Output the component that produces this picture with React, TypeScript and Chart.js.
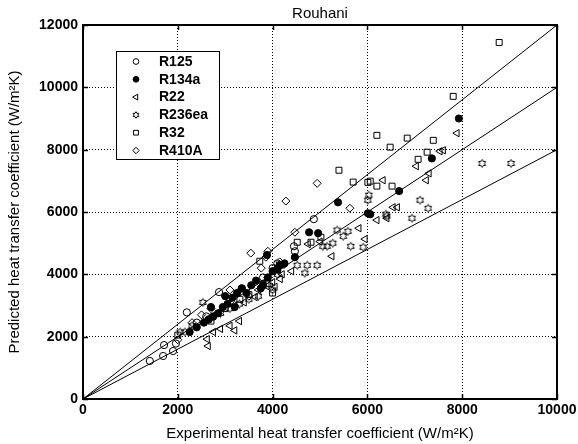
import React, { useEffect, useRef } from "react";
import { Chart, registerables } from "chart.js";

Chart.register(...registerables);

type P = [number, number];

const seriesNames = ["R125", "R134a", "R22", "R236ea", "R32", "R410A"];

const r125: P[] = [
  [1410, 1220], [1690, 1380], [1900, 1540], [1710, 1730], [1960, 1780], [2190, 2780],
  [2870, 3430], [2400, 2450], [2600, 2650], [3350, 3550], [4470, 4740], [4450, 4900],
  [4870, 5770], [3800, 3900], [4000, 4200], [4100, 4350],
];
const r134a: P[] = [
  [2250, 2150], [2400, 2300], [2550, 2450], [2650, 2550], [2750, 2650], [2850, 2750],
  [2700, 2950], [2950, 2950], [3050, 3050], [3150, 3250], [3250, 3400], [3350, 3550],
  [3450, 3400], [3550, 3650], [3650, 3800], [3750, 3550], [3880, 4620], [3900, 3900],
  [4000, 4100], [4150, 4300], [4250, 4350], [4470, 4550], [4770, 5350], [4960, 5320],
  [5380, 6310], [6010, 5960], [6060, 5930], [6670, 6670], [7360, 7720], [7930, 9000],
  [3200, 2950], [3000, 3300], [3800, 3650], [4100, 4150],
];
const r22: P[] = [
  [2640, 1700], [2620, 1920], [2750, 2150], [2900, 2250], [3100, 2350], [3300, 2500],
  [3200, 2200], [3630, 3270], [3880, 3620], [4000, 3750], [4160, 3850], [3700, 3500],
  [4400, 4100], [4750, 4970], [5250, 4580], [5820, 5480], [5950, 5130], [6200, 5740],
  [6410, 5800], [6540, 6150], [6630, 6150], [6330, 7020], [7030, 7470], [7240, 7020],
  [7300, 7240], [7530, 7950], [7600, 7980], [7890, 8530], [5000, 5050], [3400, 3100],
  [3900, 3900], [4050, 3600], [4200, 4000],
];
const r236ea: P[] = [
  [2050, 2150], [2150, 2150], [2530, 3100], [2300, 2350], [2700, 2600], [2900, 2750],
  [3100, 2900], [3300, 3050], [3500, 3200], [3700, 3300], [4100, 4000], [4520, 4290],
  [4730, 4290], [4940, 4290], [4680, 4040], [5060, 4900], [5150, 4900], [5270, 5000],
  [5360, 5420], [5590, 5380], [5490, 5220], [5650, 4900], [5910, 4870], [6030, 6540],
  [6010, 6380], [6410, 5870], [6390, 5930], [6940, 5800], [7110, 6380], [7280, 6120],
  [8420, 7560], [9030, 7560], [3800, 3700], [4000, 3500],
];
const r32: P[] = [
  [2000, 2050], [2700, 2500], [3000, 2900], [3310, 3200], [3500, 3350], [3730, 4420],
  [4000, 3400], [4100, 4200], [4520, 5030], [4810, 5030], [5020, 5190], [5400, 7340],
  [5700, 6960], [6010, 6950], [6200, 6830], [6520, 6830], [6060, 6990], [6200, 8460],
  [6480, 8080], [6840, 8370], [7390, 8300], [7260, 7920], [7070, 7690], [7810, 9710],
  [8780, 11440], [3900, 3700], [4200, 4300],
];
const r410a: P[] = [
  [2000, 1900], [2300, 2450], [2700, 2900], [3100, 3500], [3200, 3000], [3500, 3300],
  [3540, 4680], [3760, 4200], [3860, 4550], [3900, 4740], [4280, 6350], [4470, 5350],
  [4940, 6920], [5630, 6120], [2500, 2700], [4150, 4400],
];

const refSlopes = [1.2, 1.0, 0.8];
const xMax = 10000;
const yMax = 12000;
const tickStep = 2000;

const FONT = "'Liberation Sans', Arial, Helvetica, sans-serif";

function makeHexagram(r: number, lw: number): HTMLCanvasElement {
  const size = Math.ceil(r * 2 + 3);
  const c = document.createElement("canvas");
  c.width = size;
  c.height = size;
  const ctx = c.getContext("2d")!;
  const cx = size / 2;
  const cy = size / 2;
  const inner = r * 0.577;
  ctx.beginPath();
  for (let i = 0; i < 12; i++) {
    const ang = (Math.PI / 6) * i - Math.PI / 2;
    const rr = i % 2 === 0 ? r : inner;
    const px = cx + rr * Math.cos(ang);
    const py = cy + rr * Math.sin(ang);
    if (i === 0) ctx.moveTo(px, py);
    else ctx.lineTo(px, py);
  }
  ctx.closePath();
  ctx.lineWidth = lw;
  ctx.strokeStyle = "#000";
  ctx.stroke();
  return c;
}

const toXY = (arr: P[]) => arr.map(([x, y]) => ({ x, y }));

function drawMarker(ctx: CanvasRenderingContext2D, style: any, x: number, y: number, r: number, rot: number, fill: string) {
  ctx.save();
  ctx.fillStyle = fill;
  ctx.strokeStyle = "#000";
  ctx.lineWidth = 1;
  if (style instanceof HTMLCanvasElement) {
    ctx.drawImage(style, Math.round(x - style.width / 2), Math.round(y - style.height / 2));
    ctx.restore();
    return;
  }
  ctx.beginPath();
  if (style === "circle") {
    ctx.arc(x, y, r, 0, Math.PI * 2);
  } else if (style === "triangle") {
    const base = (rot * Math.PI) / 180;
    for (let k = 0; k < 3; k++) {
      const a = base - Math.PI / 2 + (k * 2 * Math.PI) / 3;
      const px = x + r * Math.cos(a);
      const py = y + r * Math.sin(a);
      if (k === 0) ctx.moveTo(px, py);
      else ctx.lineTo(px, py);
    }
    ctx.closePath();
  } else if (style === "rect") {
    const h = r * Math.SQRT1_2;
    ctx.rect(x - h, y - h, 2 * h, 2 * h);
  } else if (style === "rectRot") {
    ctx.moveTo(x, y - r);
    ctx.lineTo(x + r, y);
    ctx.lineTo(x, y + r);
    ctx.lineTo(x - r, y);
    ctx.closePath();
  }
  ctx.fill();
  ctx.stroke();
  ctx.restore();
}

export default function App() {
  const ref = useRef<HTMLCanvasElement | null>(null);

  useEffect(() => {
    if (!ref.current) return;
    const star = makeHexagram(4, 1);
    const starLegend = makeHexagram(3.3, 1);

    const seriesDefs: any[] = [
      { data: r125, style: "circle", fill: "rgba(0,0,0,0)", radius: 3.6, rot: 0 },
      { data: r134a, style: "circle", fill: "#000", radius: 3.6, rot: 0 },
      { data: r22, style: "triangle", fill: "rgba(0,0,0,0)", radius: 4.2, rot: -90 },
      { data: r236ea, style: star, fill: "rgba(0,0,0,0)", radius: 4, rot: 0 },
      { data: r32, style: "rect", fill: "rgba(0,0,0,0)", radius: 4.2, rot: 0 },
      { data: r410a, style: "rectRot", fill: "rgba(0,0,0,0)", radius: 4, rot: 0 },
    ];

    const datasets: any[] = seriesDefs.map((s, i) => ({
      showLine: false,
      borderColor: "#000",
      borderWidth: 1,
      pointBorderColor: "#000",
      pointBorderWidth: 1,
      label: seriesNames[i],
      data: toXY(s.data),
      pointStyle: s.style,
      pointRadius: s.radius,
      pointRotation: s.rot,
      pointBackgroundColor: s.fill,
      backgroundColor: s.fill,
      order: 1,
    }));

    refSlopes.forEach((k) => {
      datasets.push({
        label: "ref" + k,
        data: [
          { x: 0, y: 0 },
          { x: xMax, y: xMax * k },
        ],
        showLine: true,
        borderColor: "#000",
        borderWidth: 1,
        pointRadius: 0,
        fill: false,
        order: 2,
      });
    });

    const overlay = {
      id: "matlabOverlay",
      afterDraw(chart: any) {
        const { ctx, chartArea } = chart;
        const { left, right, top, bottom } = chartArea;
        const xs = chart.scales.x;
        const ys = chart.scales.y;
        ctx.save();
        ctx.strokeStyle = "#000";
        ctx.lineWidth = 1.5;
        const tl = 5;
        for (let v = 0; v <= xMax; v += tickStep) {
          const px = Math.round(xs.getPixelForValue(v)) + 0.5;
          ctx.beginPath();
          ctx.moveTo(px, bottom);
          ctx.lineTo(px, bottom - tl);
          ctx.moveTo(px, top);
          ctx.lineTo(px, top + tl);
          ctx.stroke();
        }
        for (let v = 0; v <= yMax; v += tickStep) {
          const py = Math.round(ys.getPixelForValue(v)) + 0.5;
          ctx.beginPath();
          ctx.moveTo(left, py);
          ctx.lineTo(left + tl, py);
          ctx.moveTo(right, py);
          ctx.lineTo(right - tl, py);
          ctx.stroke();
        }
        ctx.lineWidth = 2;
        ctx.strokeRect(left, top, right - left, bottom - top);

        ctx.fillStyle = "#000";
        ctx.font = `15px ${FONT}`;
        ctx.textAlign = "center";
        ctx.textBaseline = "middle";
        ctx.fillText("Rouhani", (left + right) / 2, 14);

        const bx = 116, by = 51, bw = 103, bh = 108;
        ctx.fillStyle = "#fff";
        ctx.fillRect(bx, by, bw, bh);
        ctx.lineWidth = 1;
        ctx.strokeStyle = "#000";
        ctx.strokeRect(bx + 0.5, by + 0.5, bw, bh);
        ctx.font = `bold 14px ${FONT}`;
        ctx.textAlign = "left";
        ctx.textBaseline = "middle";
        const rowY0 = 61.5;
        const rowH = 17.8;
        seriesDefs.forEach((s, i) => {
          const cy = rowY0 + i * rowH;
          const style = s.style === star ? starLegend : s.style;
          drawMarker(ctx, style, 136, cy, s.radius * 0.8, s.rot, s.fill);
          ctx.fillStyle = "#000";
          ctx.fillText(seriesNames[i], 159, cy + 0.5);
        });
        ctx.restore();
      },
    };

    const chart = new Chart(ref.current, {
      type: "scatter",
      data: { datasets },
      plugins: [overlay],
      options: {
        animation: false,
        responsive: false,
        events: [],
        layout: { padding: { top: 25, right: 21, left: 0, bottom: 0 } },
        plugins: {
          legend: { display: false },
          title: { display: false },
          tooltip: { enabled: false },
        },
        scales: {
          x: {
            type: "linear",
            min: 0,
            max: xMax,
            afterFit(scale: any) {
              scale.height = 45;
              scale.paddingLeft = 0;
              scale.paddingRight = 0;
            },
            ticks: {
              stepSize: tickStep,
              color: "#000",
              padding: 3,
              maxRotation: 0,
              autoSkip: false,
              font: { family: FONT, size: 14, weight: "bold" },
              callback: (v: any) => String(v),
            },
            grid: { color: "#000", lineWidth: 1, drawTicks: false },
            border: { display: false, dash: [1, 2] },
            title: {
              display: true,
              text: "Experimental heat transfer coefficient (W/m²K)",
              color: "#000",
              font: { family: FONT, size: 15 },
              padding: { top: 0, bottom: 1 },
            },
          },
          y: {
            type: "linear",
            min: 0,
            max: yMax,
            afterFit(scale: any) {
              scale.width = 83;
              scale.paddingTop = 0;
              scale.paddingBottom = 0;
            },
            ticks: {
              stepSize: tickStep,
              color: "#000",
              padding: 5,
              autoSkip: false,
              font: { family: FONT, size: 14, weight: "bold" },
              callback: (v: any) => String(v),
            },
            grid: { color: "#000", lineWidth: 1, drawTicks: false },
            border: { display: false, dash: [1, 2] },
            title: {
              display: true,
              text: "Predicted heat transfer coefficient (W/m²K)",
              color: "#000",
              font: { family: FONT, size: 15 },
              padding: { top: 6, bottom: 0 },
            },
          },
        },
      } as any,
    });

    return () => chart.destroy();
  }, []);

  return (
    <div style={{ position: "absolute", left: 0, top: 0, width: 578, height: 444, background: "#fff" }}>
      <canvas ref={ref} width={578} height={444} />
    </div>
  );
}
